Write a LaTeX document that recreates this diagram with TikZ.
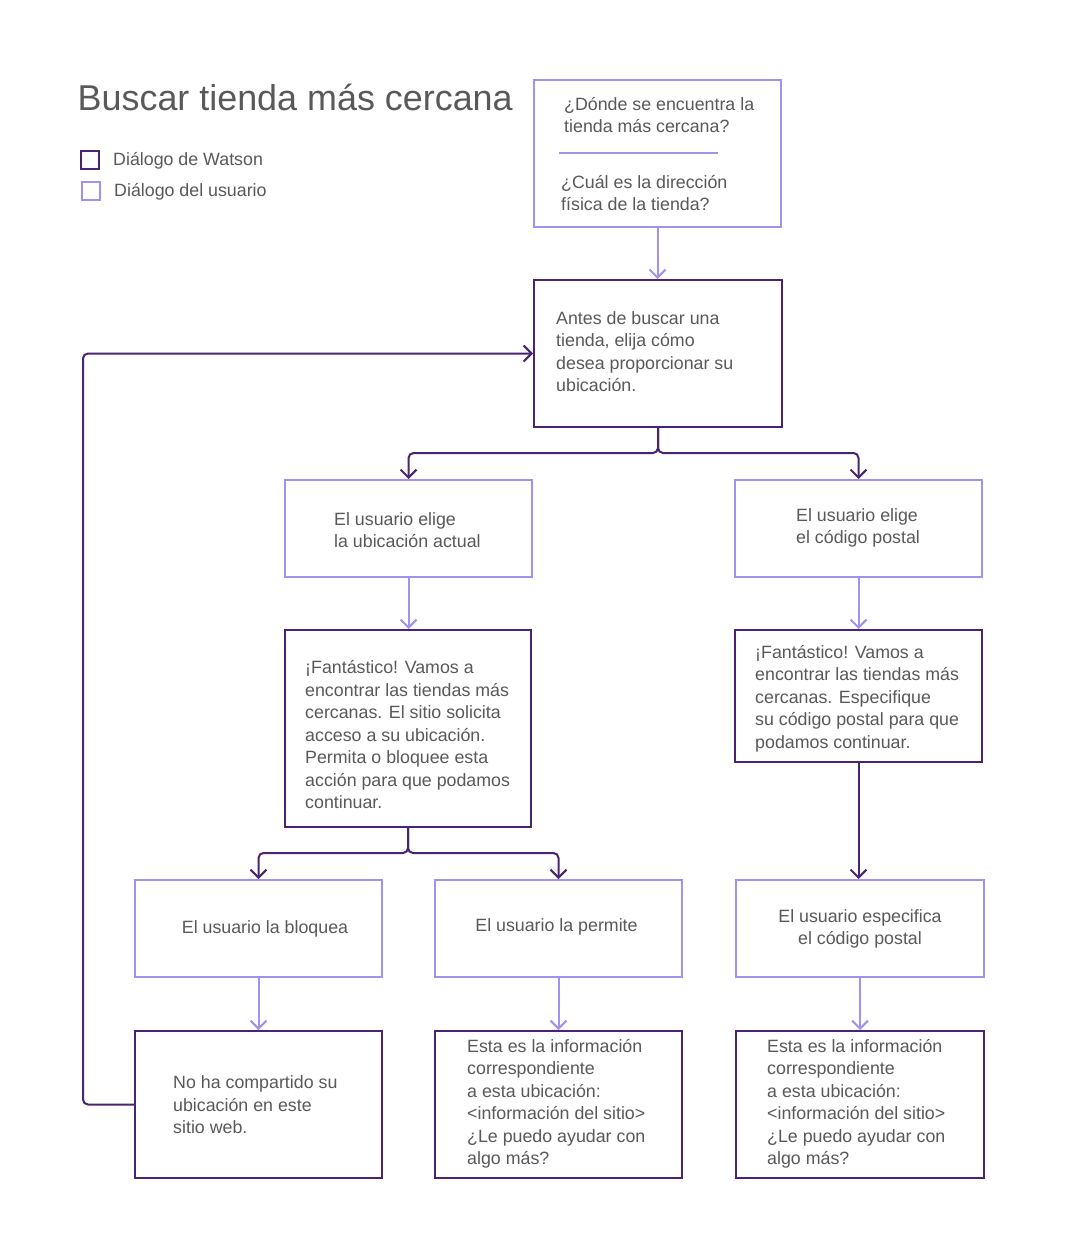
\documentclass[tikz,border=0pt]{standalone}
\usepackage{fontspec}
\setmainfont{Liberation Sans}
\usetikzlibrary{arrows.meta}
\definecolor{dk}{HTML}{4A2371}
\definecolor{lt}{HTML}{A391F2}
\definecolor{tx}{HTML}{595959}
\begin{document}
\begin{tikzpicture}[x=1pt,y=-1pt,
  box/.style={draw=#1, line width=2pt, inner sep=0pt},
  wbox/.style={box=dk},
  ubox/.style={box=lt},
  txt/.style={text=tx, font=\fontsize{17.8}{22.5}\selectfont, align=left, inner sep=0pt},
  tipx/.style={-{Straight Barb[length=8pt,width=16pt,line width=2pt]}},
  darr/.style={draw=dk, line width=2pt, rounded corners=5pt, tipx},
  larr/.style={draw=lt, line width=2pt, rounded corners=5pt, tipx}
]
\useasboundingbox[fill=white] (0,0) rectangle (1083,1257);

% title and legend
\node[anchor=base west, inner sep=0pt, text=tx, font=\fontsize{35.9}{40}\selectfont] (title) at (77.5,111) {Buscar tienda más cercana};
\node[wbox, minimum size=18pt] (lgw) at (90,160) {};
\node[txt, anchor=west] (lgwt) at (113,160.5) {Diálogo de Watson};
\node[ubox, minimum size=18pt] (lgu) at (91,191) {};
\node[txt, anchor=west] (lgut) at (114,191.5) {Diálogo del usuario};

% boxes
\node[ubox, minimum width=247pt, minimum height=147pt] (q) at (657.5,153.5) {};
\node[wbox, minimum width=248pt, minimum height=147pt] (b2) at (658,353.5) {};
\node[ubox, minimum width=247pt, minimum height=97pt] (l1) at (408.5,528.5) {};
\node[ubox, minimum width=247pt, minimum height=97pt] (r1) at (858.5,528.5) {};
\node[wbox, minimum width=246pt, minimum height=197pt] (l2) at (408,728.5) {};
\node[wbox, minimum width=247pt, minimum height=132pt] (r2) at (858.5,696) {};
\node[ubox, minimum width=247pt, minimum height=97pt] (ll) at (258.5,928.5) {};
\node[ubox, minimum width=247pt, minimum height=97pt] (lm) at (558.5,928.5) {};
\node[ubox, minimum width=248pt, minimum height=97pt] (rr) at (860,928.5) {};
\node[wbox, minimum width=247pt, minimum height=147pt] (b1) at (258.5,1104.5) {};
\node[wbox, minimum width=247pt, minimum height=147pt] (bm) at (558.5,1104.5) {};
\node[wbox, minimum width=248pt, minimum height=147pt] (br) at (860,1104.5) {};

% texts
\node[txt, anchor=west] (q1) at (564,115) {¿Dónde se encuentra la\\tienda más cercana?};
\draw[lt, line width=2pt] (559,153) -- (718,153);
\node[txt, anchor=west] (q2) at (561,193) {¿Cuál es la dirección\\física de la tienda?};
\node[txt, anchor=west] (t2) at (556,351.5) {Antes de buscar una\\tienda, elija cómo\\desea proporcionar su\\ubicación.};
\node[txt, anchor=west] (tl1) at (334,530) {El usuario elige\\la ubicación actual};
\node[txt, anchor=west] (tr1) at (796,528) {El usuario elige\\el código postal};
\node[txt, anchor=west] (tl2) at (305,735) {¡Fantástico! Vamos a\\encontrar las tiendas más\\cercanas. El sitio solicita\\acceso a su ubicación.\\Permita o bloquee esta\\acción para que podamos\\continuar.};
\node[txt, anchor=west] (tr2) at (755,698.5) {¡Fantástico! Vamos a\\encontrar las tiendas más\\cercanas. Especifique\\su código postal para que\\podamos continuar.};
\node[txt] (tll) at (265,929) {El usuario la bloquea};
\node[txt] (tlm) at (556.5,927) {El usuario la permite};
\node[txt, align=center] (trr) at (860,929) {El usuario especifica\\el código postal};
\node[txt, anchor=west] (tb1) at (173,1105) {No ha compartido su\\ubicación en este\\sitio web.};
\node[txt, anchor=west] (tbm) at (467,1104) {Esta es la información\\correspondiente\\a esta ubicación:\\<información del sitio>\\¿Le puedo ayudar con\\algo más?};
\node[txt, anchor=west] (tbr) at (767,1104) {Esta es la información\\correspondiente\\a esta ubicación:\\<información del sitio>\\¿Le puedo ayudar con\\algo más?};

% connectors
\coordinate (j1) at (658,453);
\coordinate (j2) at (408,853);
\coordinate (lp) at (83,0);
\draw[larr] (q.south) -- (q.south |- b2.north);
\draw[darr] (b2.south) -- (j1) -| (l1.north);
\draw[darr] (b2.south) -- (j1) -| (r1.north);
\draw[larr] (l1.south) -- (l1.south |- l2.north);
\draw[larr] (r1.south) -- (r1.south |- r2.north);
\draw[darr] (l2.south) -- (j2) -| (ll.north);
\draw[darr] (l2.south) -- (j2) -| (lm.north);
\draw[darr] (r2.south) -- (r2.south |- rr.north);
\draw[larr] (ll.south) -- (ll.south |- b1.north);
\draw[larr] (lm.south) -- (lm.south |- bm.north);
\draw[larr] (rr.south) -- (rr.south |- br.north);
\draw[darr] (b1.west) -- (b1.west -| lp) |- (b2.west);
\end{tikzpicture}
\end{document}
